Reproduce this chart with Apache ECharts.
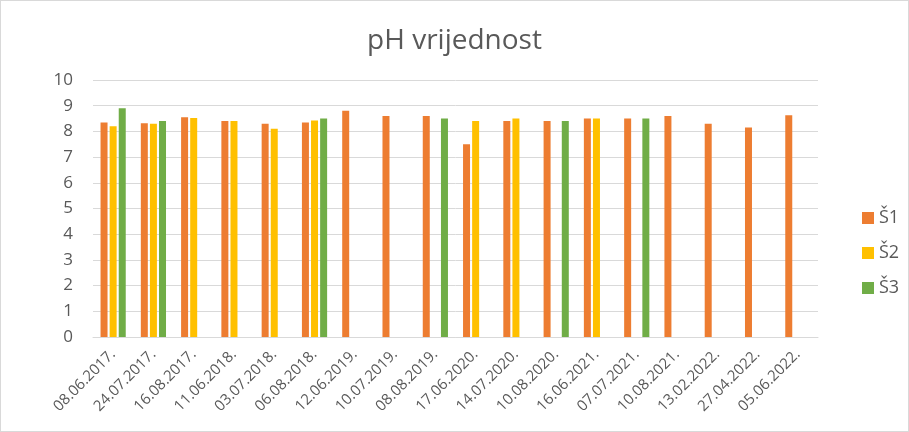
<!DOCTYPE html>
<html>
<head>
<meta charset="utf-8">
<script src="https://cdn.jsdelivr.net/npm/echarts@6/dist/echarts.min.js"></script>
<style>
  html, body { margin: 0; padding: 0; background: #fff; }
  #chart { width: 907px; height: 430px; border: 1px solid #d9d9d9; }
</style>
</head>
<body>
<div id="chart"></div>
<script>
var datumi = ['08.06.2017.', '24.07.2017.', '16.08.2017.', '11.06.2018.', '03.07.2018.', '06.08.2018.',
  '12.06.2019.', '10.07.2019.', '08.08.2019.', '17.06.2020.', '14.07.2020.', '10.08.2020.',
  '16.06.2021.', '07.07.2021.', '10.08.2021.', '13.02.2022.', '27.04.2022.', '05.06.2022.'];
var s1 = [8.35, 8.32, 8.55, 8.4, 8.3, 8.35, 8.8, 8.6, 8.6, 7.5, 8.4, 8.4, 8.5, 8.5, 8.6, 8.3, 8.15, 8.63];
var s2 = [8.2, 8.3, 8.52, 8.4, 8.1, 8.42, null, null, null, 8.4, 8.5, null, 8.5, null, null, null, null, null];
var s3 = [8.9, 8.4, null, null, null, 8.5, null, null, 8.5, null, null, 8.4, null, 8.5, null, null, null, null];
var yTicks = [0, 10, 1];

;(function(){
  var myChart = echarts.init(document.getElementById('chart'));
  var font = '"Open Sans", "Noto Sans", sans-serif';

  var option = {
    animation: false,
    color: ['#ED7D31', '#FFC000', '#70AD47'],
    title: {
      text: 'pH vrijednost',
      left: 'center',
      top: 21,
      textStyle: { fontFamily: font, fontSize: 28, fontWeight: 'normal', color: '#595959' }
    },
    legend: {
      orient: 'vertical',
      left: 856,
      top: 203,
      itemWidth: 12,
      itemHeight: 12,
      itemGap: 17,
      icon: 'rect',
      textStyle: { fontFamily: font, fontSize: 18, color: '#595959' },
      data: ['Š1', 'Š2', 'Š3']
    },
    grid: { left: 92, right: 90, top: 79, bottom: 94, containLabel: false },
    xAxis: {
      type: 'category',
      data: datumi,
      axisTick: { show: false },
      axisLine: { lineStyle: { color: '#d9d9d9' } },
      axisLabel: {
        interval: 0,
        rotate: 45,
        margin: 15,
        fontFamily: font,
        fontSize: 15,
        color: '#595959'
      }
    },
    yAxis: {
      type: 'value',
      min: yTicks[0],
      max: yTicks[1],
      interval: yTicks[2],
      axisLine: { show: false },
      axisTick: { show: false },
      splitLine: { lineStyle: { color: '#d9d9d9', width: 1 } },
      axisLabel: { margin: 20, fontFamily: font, fontSize: 17, color: '#595959' }
    },
    series: [
      { name: 'Š1', type: 'bar', data: s1, barWidth: 7, barGap: '30%' },
      { name: 'Š2', type: 'bar', data: s2, barWidth: 7, barGap: '30%' },
      { name: 'Š3', type: 'bar', data: s3, barWidth: 7, barGap: '30%' }
    ]
  };

  myChart.setOption(option);
})();
</script>
</body>
</html>
